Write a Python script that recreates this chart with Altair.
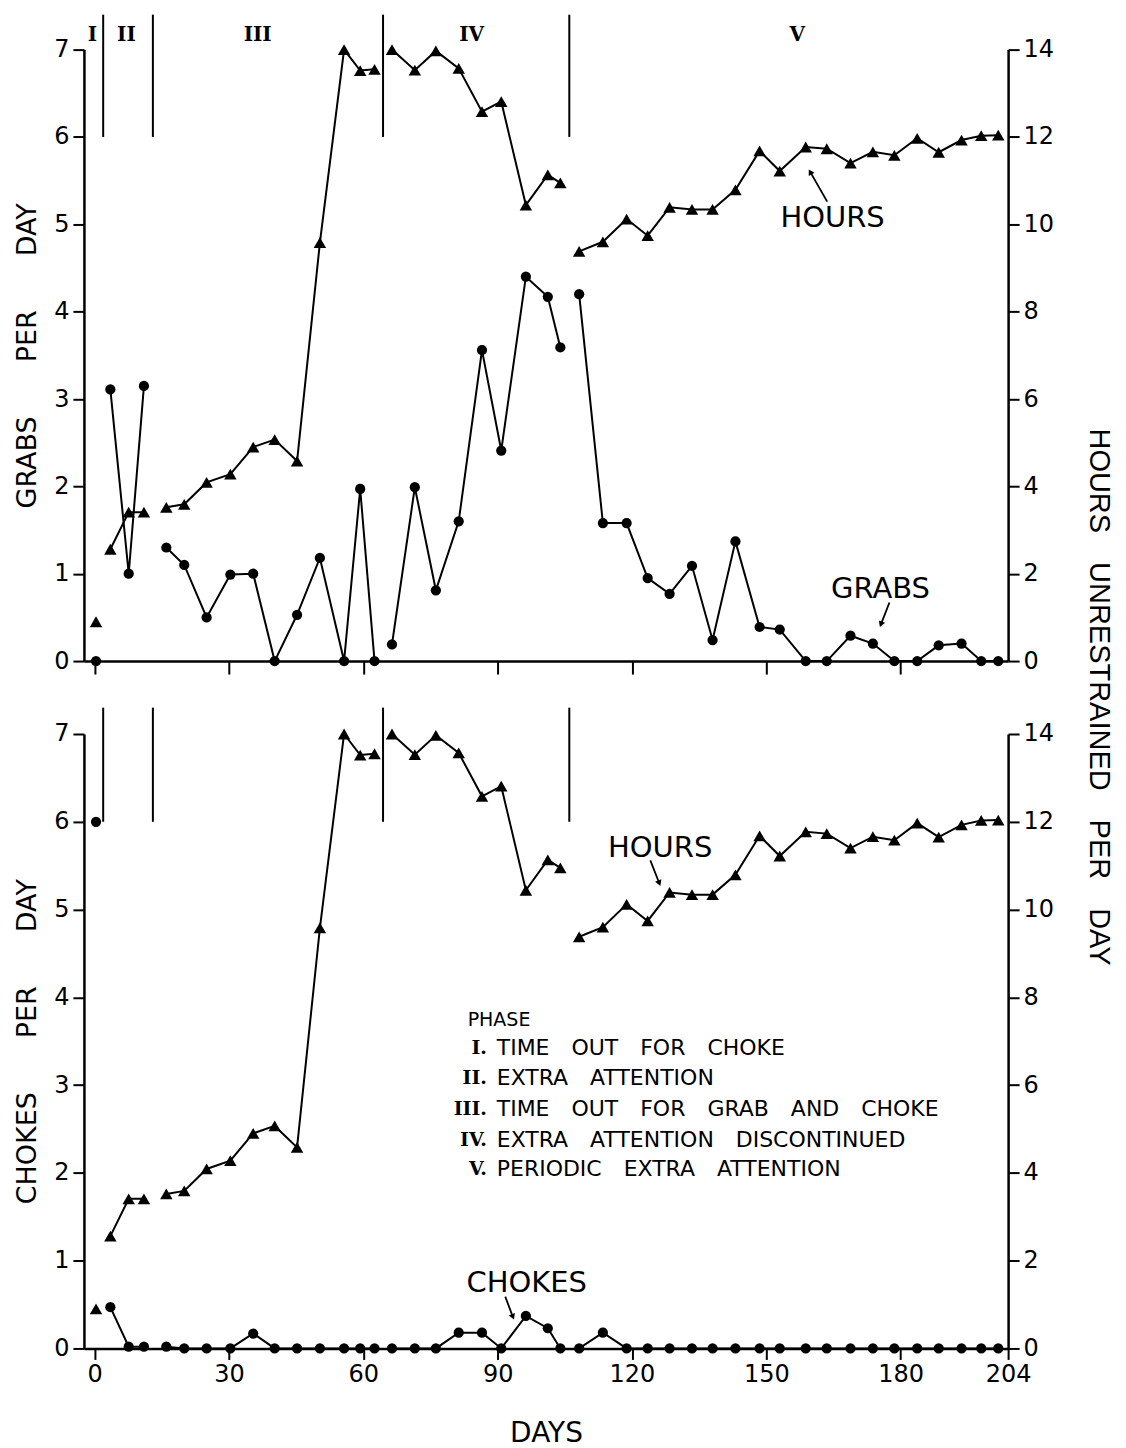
import altair as alt
import pandas as pd

# ---------------- data ----------------
days = [0.3,
        3.5, 7.6, 11.0,
        16.0, 20.0, 25.0, 30.3, 35.4, 40.2, 45.2, 50.3, 55.7, 59.3, 62.5,
        66.4, 71.5, 76.2, 81.3, 86.5, 90.8, 96.3, 101.2, 104.0,
        108.2, 113.5, 118.8, 123.5, 128.4, 133.4, 138.0, 143.1, 148.5, 153.0,
        158.8, 163.5, 168.8, 173.8, 178.6, 183.7, 188.5, 193.6, 198.0, 201.8]

phase = ["I",
         "II", "II", "II",
         "III", "III", "III", "III", "III", "III", "III", "III", "III", "III", "III",
         "IV", "IV", "IV", "IV", "IV", "IV", "IV", "IV", "IV",
         "V", "V", "V", "V", "V", "V", "V", "V", "V", "V",
         "V", "V", "V", "V", "V", "V", "V", "V", "V", "V"]

grabs = [0.0,
         3.11, 1.00, 3.15,
         1.30, 1.10, 0.50, 0.99, 1.00, 0.00, 0.53, 1.18, 0.00, 1.97, 0.00,
         0.19, 1.99, 0.81, 1.60, 3.56, 2.41, 4.40, 4.17, 3.59,
         4.20, 1.58, 1.58, 0.95, 0.77, 1.09, 0.24, 1.37, 0.39, 0.36,
         0.00, 0.00, 0.29, 0.20, 0.00, 0.00, 0.18, 0.20, 0.00, 0.00]

chokes = [6.0,
          0.47, 0.02, 0.02,
          0.02, 0.00, 0.00, 0.00, 0.17, 0.00, 0.00, 0.00, 0.00, 0.00, 0.00,
          0.00, 0.00, 0.00, 0.18, 0.18, 0.00, 0.37, 0.23, 0.00,
          0.00, 0.18, 0.00, 0.00, 0.00, 0.00, 0.00, 0.00, 0.00, 0.00,
          0.00, 0.00, 0.00, 0.00, 0.00, 0.00, 0.00, 0.00, 0.00, 0.00]

hours = [0.90,
         2.56, 3.41, 3.41,
         3.52, 3.59, 4.09, 4.28, 4.90, 5.07, 4.58, 9.58, 14.00, 13.52, 13.55,
         14.00, 13.53, 13.97, 13.57, 12.58, 12.81, 10.44, 11.13, 10.95,
         9.38, 9.60, 10.12, 9.74, 10.39, 10.34, 10.34, 10.79, 11.68, 11.22,
         11.77, 11.73, 11.40, 11.66, 11.58, 11.97, 11.65, 11.93, 12.03, 12.04]

phase_bounds = [1.9, 13.0, 64.4, 106.0]
phase_names = ["I", "II", "III", "IV", "V"]
phase_label_days = [-0.5, 7.1, 36.4, 84.2, 156.9]

legend_numerals = ["I.", "II.", "III.", "IV.", "V."]
legend_texts = ["TIME\u2003OUT\u2003FOR\u2003CHOKE",
                "EXTRA\u2003ATTENTION",
                "TIME\u2003OUT\u2003FOR\u2003GRAB\u2003AND\u2003CHOKE",
                "EXTRA\u2003ATTENTION\u2003DISCONTINUED",
                "PERIODIC\u2003EXTRA\u2003ATTENTION"]
legend_rows_y = [3.42, 3.08, 2.73, 2.38, 2.04]

x_ticks_top = [0, 30, 60, 90, 120, 150, 180]
x_ticks_bottom = [0, 30, 60, 90, 120, 150, 180, 204]
y_ticks_left = [0, 1, 2, 3, 4, 5, 6, 7]
y_ticks_right = [0, 2, 4, 6, 8, 10, 12, 14]

# ---------------- layout constants ----------------
W = 925
H_TOP = 612
H_BOT = 615
FONT = "DejaVu Sans"

df = pd.DataFrame({"day": days, "phase": phase, "grabs": grabs,
                   "chokes": chokes, "hours": hours})

x_scale = alt.Scale(domain=[-2.4, 204], nice=False, zero=False)
yL = alt.Scale(domain=[0, 7], nice=False, zero=False)
yR = alt.Scale(domain=[0, 14], nice=False, zero=False)


def panel(field, y_title, height, rule_top, x_axis, annots, arrows, extra):
    yl_axis = alt.Axis(values=y_ticks_left, title=y_title, titleFontSize=27,
                       titlePadding=12, tickSize=11, labelPadding=4, domain=True,
                       domainColor="black", domainWidth=2.5,
                       titleFontWeight="normal")
    yr_axis = alt.Axis(orient="right", values=y_ticks_right, title=None, domain=True,
                       domainColor="black", domainWidth=2.5,
                       tickSize=11, labelPadding=4)

    def X(f):
        return alt.X(f, scale=x_scale, axis=x_axis)

    def Y(f):
        return alt.Y(f, scale=yL, axis=yl_axis)

    base = alt.Chart(df)
    line = base.mark_line(color="black", strokeWidth=2).encode(
        x=X("day:Q"), y=Y(f"{field}:Q"), detail="phase:N")
    pts = base.mark_circle(color="black", opacity=1, size=105).encode(
        x=X("day:Q"), y=Y(f"{field}:Q"))

    rules_df = pd.DataFrame({"day": phase_bounds, "v": [6.0] * len(phase_bounds),
                             "v2": [rule_top] * len(phase_bounds)})
    rules = alt.Chart(rules_df).mark_rule(color="black", strokeWidth=2).encode(
        x=X("day:Q"), y=Y("v:Q"), y2="v2:Q")

    ann_df = pd.DataFrame(annots)
    ann = alt.Chart(ann_df).mark_text(font=FONT, fontSize=29, color="black",
                                      align="center", baseline="middle").encode(
        x=X("day:Q"), y=Y("v:Q"), text="t:N")

    arr_df = pd.DataFrame(arrows)
    arr_lines = alt.Chart(arr_df).mark_rule(color="black", strokeWidth=1.8).encode(
        x=X("day:Q"), y=Y("v:Q"), x2="day2:Q", y2="v2:Q")
    arr_heads = alt.Chart(arr_df).mark_point(shape="triangle-up", filled=True,
                                             color="black", opacity=1, size=45).encode(
        x=X("day2:Q"), y=Y("v2:Q"), angle=alt.Angle("a:Q", scale=None))

    extra_layers = [e(X, Y) for e in extra]
    left = alt.layer(line, pts, rules, ann, arr_lines, arr_heads, *extra_layers)

    h_line = base.mark_line(color="black", strokeWidth=2).encode(
        x=X("day:Q"), y=alt.Y("hours:Q", scale=yR, axis=yr_axis), detail="phase:N")
    h_pts = base.mark_point(shape="triangle-up", filled=True, color="black",
                            opacity=1, size=155).encode(
        x=X("day:Q"), y=alt.Y("hours:Q", scale=yR, axis=yr_axis))
    right = alt.layer(h_line, h_pts)
    return alt.layer(left, right).resolve_scale(y="independent").properties(
        width=W, height=height)


# ----- top panel extras -----
def phase_labels(X, Y):
    d = pd.DataFrame({"day": phase_label_days, "v": [7.17] * 5, "t": phase_names})
    return alt.Chart(d).mark_text(font="DejaVu Serif", fontWeight="bold", fontSize=20,
                                  color="black", baseline="middle").encode(
        x=X("day:Q"), y=Y("v:Q"), text="t:N")


def right_title(X, Y):
    d = pd.DataFrame({"t": ["HOURS\u2003UNRESTRAINED\u2003PER\u2003DAY"]})
    return alt.Chart(d).mark_text(font="Liberation Sans", fontSize=29, angle=90,
                                  color="black", align="center",
                                  baseline="middle").encode(
        x=alt.value(W + 91), y=alt.value(H_TOP + 36), text="t:N")


top = panel(
    "grabs", "GRABS\u2003\u2003PER\u2003\u2003DAY", H_TOP, 7.40,
    alt.Axis(values=x_ticks_top, labels=False, title=None, tickSize=13),
    {"day": [164.8, 175.5], "v": [5.07, 0.82], "t": ["HOURS", "GRABS"]},
    {"day": [163.6, 177.5], "v": [5.26, 0.67], "day2": [159.8, 175.6],
     "v2": [5.60, 0.42], "a": [330, 201]},
    [phase_labels, right_title],
)


# ----- bottom panel extras -----
def legend_head(X, Y):
    d = pd.DataFrame({"day": [83.3], "v": [3.74], "t": ["PHASE"]})
    return alt.Chart(d).mark_text(font=FONT, fontSize=19, color="black", align="left",
                                  baseline="middle").encode(
        x=X("day:Q"), y=Y("v:Q"), text="t:N")


leg_df = pd.DataFrame({"v": legend_rows_y, "num": legend_numerals, "txt": legend_texts,
                       "dn": [87.6] * 5, "dt": [89.8] * 5})


def legend_num(X, Y):
    return alt.Chart(leg_df).mark_text(font="DejaVu Serif", fontWeight="bold",
                                       fontSize=19, color="black", align="right",
                                       baseline="middle").encode(
        x=X("dn:Q"), y=Y("v:Q"), text="num:N")


def legend_txt(X, Y):
    return alt.Chart(leg_df).mark_text(font=FONT, fontSize=22, color="black",
                                       align="left", baseline="middle").encode(
        x=X("dt:Q"), y=Y("v:Q"), text="txt:N")


bottom = panel(
    "chokes", "CHOKES\u2003\u2003PER\u2003\u2003DAY", H_BOT, 7.3,
    alt.Axis(values=x_ticks_bottom, title="DAYS", titleFontSize=28, titlePadding=33,
             tickSize=11, labelPadding=3, labelFlush=False, labelOverlap=False,
             titleFontWeight="normal"),
    {"day": [126.3, 96.5], "v": [5.70, 0.75], "t": ["HOURS", "CHOKES"]},
    {"day": [124.1, 91.7], "v": [5.56, 0.59], "day2": [126.1, 93.4],
     "v2": [5.30, 0.36], "a": [158, 158]},
    [legend_head, legend_num, legend_txt],
)

chart = alt.vconcat(top, bottom, spacing=73, bounds="flush").properties(
    padding={"left": 5, "top": 5, "right": 5, "bottom": 2}
).configure_view(stroke=None).configure_axis(
    domain=True, domainColor="black", domainWidth=2.5, tickColor="black", tickWidth=2,
    labelColor="black", titleColor="black", labelFont=FONT, titleFont=FONT,
    labelFontSize=24, grid=False,
)

chart.save("out.html", embed_options={"renderer": "svg", "actions": False})
